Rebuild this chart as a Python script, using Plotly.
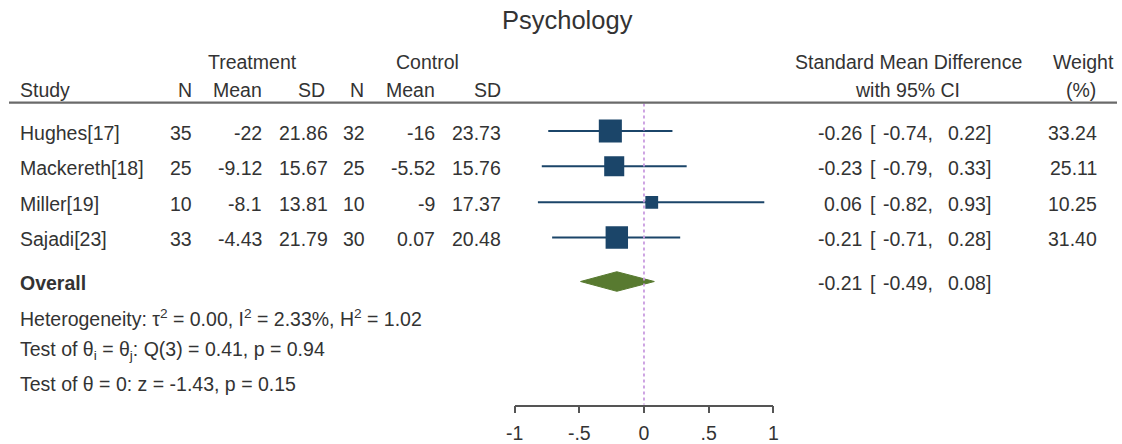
import plotly.graph_objects as go
import math

# ---------------- data ----------------
studies = ["Hughes[17]", "Mackereth[18]", "Miller[19]", "Sajadi[23]"]
treat_n = [35, 25, 10, 33]
treat_mean = [-22, -9.12, -8.1, -4.43]
treat_sd = [21.86, 15.67, 13.81, 21.79]
ctrl_n = [32, 25, 10, 30]
ctrl_mean = [-16, -5.52, -9, 0.07]
ctrl_sd = [23.73, 15.76, 17.37, 20.48]
smd = [-0.26, -0.23, 0.06, -0.21]
ci_lo = [-0.74, -0.79, -0.82, -0.71]
ci_hi = [0.22, 0.33, 0.93, 0.28]
weight = [33.24, 25.11, 10.25, 31.40]
overall_est, overall_lo, overall_hi = -0.21, -0.49, 0.08
tick_vals = [-1, -0.5, 0, 0.5, 1]
tick_text = ["-1", "-.5", "0", ".5", "1"]
title = "Psychology"
stats_lines = [
    "Heterogeneity: τ<sup>2</sup> = 0.00, I<sup>2</sup> = 2.33%, H<sup>2</sup> = 1.02",
    "Test of θ<sub>i</sub> = θ<sub>j</sub>: Q(3) = 0.41, p = 0.94",
    "Test of θ = 0: z = -1.43, p = 0.15",
]

# ---------------- layout constants (pixels) ----------------
W, H = 1122, 444
FONT = "Liberation Sans, Arial, sans-serif"
FS = 19.5
TXT = "#333333"
NAVY = "#1b4569"
GREEN = "#587a30"
row_y = [134, 170, 207, 243]
overall_y = 288
stats_y = [325, 359, 393]
axis_y = 414
header_line_y = 105
TDY = 2  # vertical nudge of row text

def px(x):
    return x / W

fig = go.Figure()

# CI lines
for i in range(len(studies)):
    fig.add_trace(go.Scatter(
        x=[ci_lo[i], ci_hi[i]], y=[row_y[i], row_y[i]], mode="lines",
        line=dict(color=NAVY, width=2), hoverinfo="skip", showlegend=False))

# squares (area proportional to weight)
fig.add_trace(go.Scatter(
    x=smd, y=row_y, mode="markers",
    marker=dict(symbol="square", color=NAVY, opacity=1,
                size=[4.0 * math.sqrt(w) for w in weight],
                line=dict(width=0)),
    hoverinfo="skip", showlegend=False))

# overall diamond
dh = 10
fig.add_trace(go.Scatter(
    x=[overall_lo, overall_est, overall_hi, overall_est, overall_lo],
    y=[overall_y, overall_y - dh, overall_y, overall_y + dh, overall_y],
    mode="lines", fill="toself", fillcolor=GREEN,
    line=dict(color=GREEN, width=1), hoverinfo="skip", showlegend=False))

# reference line at 0
fig.add_shape(type="line", xref="x", yref="y", x0=0, x1=0,
              y0=header_line_y + 1, y1=axis_y,
              line=dict(color="#c99be0", width=1.8, dash="dot"))

# header rule
fig.add_shape(type="line", xref="paper", yref="y", x0=0, x1=1,
              y0=header_line_y, y1=header_line_y,
              line=dict(color="#6a6a6a", width=2.2))

ann = []

def add(text, x, y, anchor="left", size=FS, color=TXT):
    ann.append(dict(text=text, x=px(x), y=y, xref="paper", yref="y",
                    xanchor=anchor, yanchor="middle", showarrow=False,
                    font=dict(family=FONT, size=size, color=color)))

# title
ann.append(dict(text=title, x=px(566), y=20, xref="paper", yref="y",
                xanchor="center", yanchor="middle", showarrow=False,
                font=dict(family=FONT, size=25.5, color=TXT)))

# headers
add("Treatment", 247, 63, "center")
add("Control", 424, 63, "center")
add("Study", 9, 92, "left")
add("N", 187, 92, "right")
add("Mean", 258, 92, "right")
add("SD", 322, 92, "right")
add("N", 362, 92, "right")
add("Mean", 433, 92, "right")
add("SD", 500, 92, "right")
add("Standard Mean Difference", 911, 63, "center")
add("with 95% CI", 910, 92, "center")
add("Weight", 1088, 63, "center")
add("(%)", 1086, 92, "center")

# study rows
for i, s in enumerate(studies):
    y = row_y[i] + TDY
    add(s, 9, y, "left")
    add(str(treat_n[i]), 187, y, "right")
    add(str(treat_mean[i]), 258, y, "right")
    add(str(treat_sd[i]), 325, y, "right")
    add(str(ctrl_n[i]), 363, y, "right")
    add(str(ctrl_mean[i]), 433, y, "right")
    add(str(ctrl_sd[i]), 500, y, "right")
    add(f"{smd[i]:.2f}", 866, y, "right")
    add("[", 870, y, "left")
    add(f"{ci_lo[i]:.2f},", 938, y, "right")
    add(f"{ci_hi[i]:.2f}]", 996, y, "right")
    add(f"{weight[i]:.2f}", 1104, y, "right")

# overall row
oy = overall_y + TDY
add("<b>Overall</b>", 9, oy, "left")
add(f"{overall_est:.2f}", 866, oy, "right")
add("[", 870, oy, "left")
add(f"{overall_lo:.2f},", 938, oy, "right")
add(f"{overall_hi:.2f}]", 996, oy, "right")

# stats lines
for t, y in zip(stats_lines, stats_y):
    add(t, 9, y, "left")

fig.update_layout(
    width=W, height=H, margin=dict(l=0, r=0, t=0, b=0),
    paper_bgcolor="white", plot_bgcolor="white",
    annotations=ann, showlegend=False,
    xaxis=dict(domain=[px(512), px(774)], range=[-1, 1],
               tickvals=tick_vals, ticktext=tick_text,
               showline=True, linecolor="#555555", linewidth=1.5,
               ticks="outside", ticklen=7, tickcolor="#555555", tickwidth=1.5,
               ticklabelstandoff=3,
               showgrid=False, zeroline=False,
               tickfont=dict(family=FONT, size=FS, color=TXT)),
    yaxis=dict(domain=[(H - axis_y) / H, 1], range=[axis_y, 0],
               visible=False, showgrid=False, zeroline=False),
)

fig.write_html("out.html")
